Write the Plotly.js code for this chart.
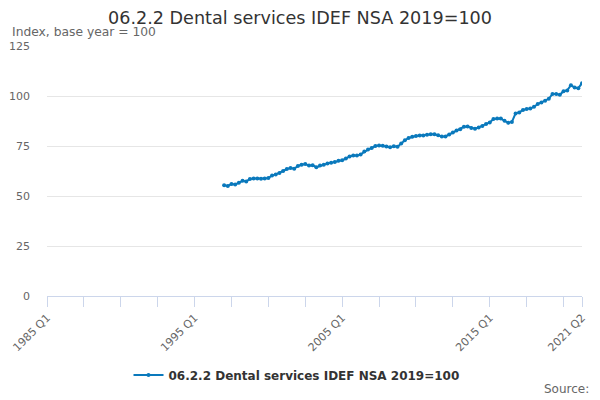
<!DOCTYPE html>
<html>
<head>
<meta charset="utf-8">
<script src="https://cdn.plot.ly/plotly-3.0.1.min.js"></script>
<style>html,body{margin:0;padding:0;background:#fff}#chart{width:600px;height:400px}</style>
</head>
<body>
<div id="chart"></div>
<script>
var firstYear = 1985, lastYear = 2021, lastQuarter = 2;
var dataStart = "1997 Q1";
var seriesName = "06.2.2 Dental services IDEF NSA 2019=100";
var values = [
  55.4, 55.0, 56.0, 55.8, 56.6, 57.6, 57.3, 58.5, 58.8, 58.8, 58.6, 58.8, 59.0, 60.3, 60.8, 61.5,
  62.5, 63.5, 64.0, 63.6, 65.0, 65.6, 66.0, 65.2, 65.4, 64.4, 65.2, 65.6, 66.2, 66.6, 67.0, 67.6,
  67.9, 68.7, 69.8, 70.2, 70.2, 70.8, 72.2, 73.2, 74.0, 75.0, 75.2, 75.1, 74.8, 74.4, 74.9, 74.6,
  76.2, 77.9, 79.0, 79.6, 80.0, 80.3, 80.3, 80.6, 80.9, 80.9, 80.4, 79.8, 79.8, 80.7, 81.8, 82.7,
  83.4, 84.6, 84.7, 84.0, 83.6, 84.3, 85.0, 86.0, 86.8, 88.5, 88.8, 88.8, 87.6, 86.6, 87.0, 91.3,
  91.8, 93.0, 93.5, 93.8, 94.6, 96.0, 96.8, 97.6, 98.6, 101.0, 101.0, 100.6, 102.4, 102.8, 105.4, 104.2,
  103.9, 106.4
];
var labelledTicks = ["1985 Q1", "1995 Q1", "2005 Q1", "2015 Q1", "2021 Q2"];
var yTicks = [0, 25, 50, 75, 100, 125];

// all quarter categories
var quarters = [];
for (var y = firstYear; y <= lastYear; y++) {
  for (var q = 1; q <= 4; q++) {
    if (y === lastYear && q > lastQuarter) break;
    quarters.push(y + " Q" + q);
  }
}
var startIdx = quarters.indexOf(dataStart);
var xData = quarters.slice(startIdx, startIdx + values.length);

// tick marks every 10 quarters plus last
var tickvals = [], ticktext = [];
for (var i = 0; i < quarters.length; i += 10) {
  tickvals.push(quarters[i]);
  ticktext.push(labelledTicks.indexOf(quarters[i]) >= 0 ? quarters[i] : "");
}
tickvals.push(quarters[quarters.length - 1]);
ticktext.push(quarters[quarters.length - 1]);

var blue = "#0a79bc";
var trace = {
  type: "scatter", mode: "lines+markers",
  x: xData, y: values, name: seriesName,
  line: {color: blue, width: 2},
  marker: {color: blue, size: 4},
  hoverinfo: "x+y"
};

var PW = 535, PH = 251, L = 47, T = 46;
function px(x) { return (x - L) / PW; }
function py(y) { return (T + PH - y) / PH; }

var layout = {
  width: 600, height: 400,
  margin: {l: 47, r: 18, t: 46, b: 103},
  paper_bgcolor: "#fff", plot_bgcolor: "#fff",
  font: {family: "DejaVu Sans, sans-serif", color: "#666", size: 11},
  title: {text: "06.2.2 Dental services IDEF NSA 2019=100", font: {size: 17.6, color: "#333", family: "DejaVu Sans, sans-serif"},
          x: 0.5, xanchor: "center", y: 0.955, yanchor: "middle"},
  xaxis: {
    type: "category", categoryorder: "array", categoryarray: quarters,
    range: [0, quarters.length - 1],
    tickmode: "array", tickvals: tickvals, ticktext: ticktext,
    tickangle: -45, ticks: "outside", ticklen: 10, tickcolor: "#ccd6eb", tickwidth: 1,
    showline: true, linecolor: "#ccd6eb", linewidth: 1,
    showgrid: false, zeroline: false,
    tickfont: {size: 11, color: "#666"}
  },
  yaxis: {
    range: [0, 125], tickmode: "array", tickvals: yTicks,
    showgrid: true, gridcolor: "#e6e6e6", gridwidth: 1,
    zeroline: false, showline: false, ticks: "",
    tickfont: {size: 11, color: "#666"}, ticklabelstandoff: 16
  },
  showlegend: true,
  legend: {orientation: "h", x: 0.5 - 18 / PW, xanchor: "center", y: py(375), yanchor: "middle",
           font: {size: 12, color: "#333", weight: "bold"}, itemwidth: 30},
  annotations: [
    {text: "Index, base year = 100", xref: "paper", yref: "paper", x: px(10), xanchor: "left",
     y: py(32), yanchor: "middle", showarrow: false,
     font: {size: 12.3, color: "#666"}},
    {text: "Source:", xref: "paper", yref: "paper", x: px(591), xanchor: "right",
     y: py(390), yanchor: "middle", showarrow: false,
     font: {size: 12, color: "#666"}}
  ]
};

Plotly.newPlot("chart", [trace], layout, {displayModeBar: false, staticPlot: true});
</script>
</body>
</html>
